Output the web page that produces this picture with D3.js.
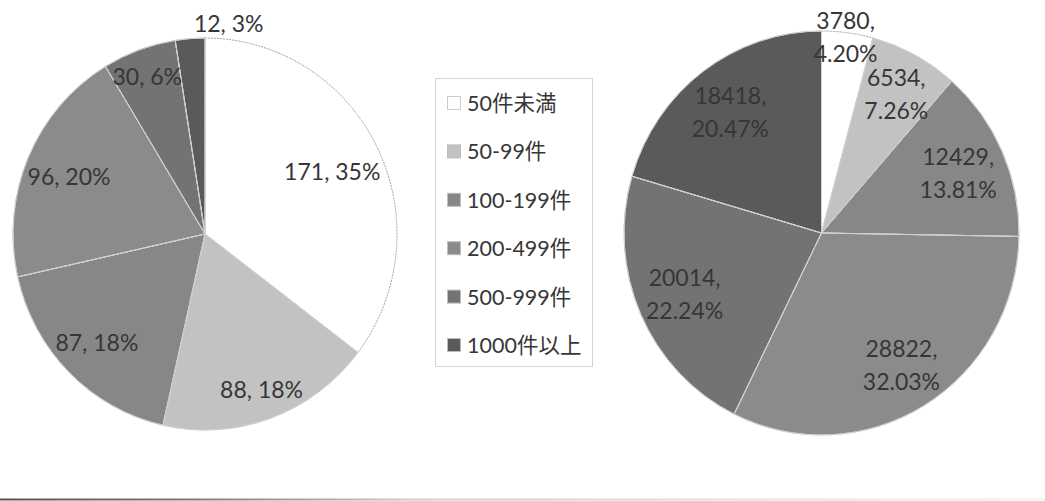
<!DOCTYPE html>
<html><head><meta charset="utf-8">
<script src="https://cdn.jsdelivr.net/npm/d3@7"></script>
<style>
body{margin:0;background:#fff;overflow:hidden;}
text{font-family:Lato,"Noto Sans CJK JP",sans-serif;}
</style>
</head><body>
<svg id="c" width="1045" height="501"></svg>
<script>
const categories = ["50件未満","50-99件","100-199件","200-499件","500-999件","1000件以上"];
const leftValues = [171, 88, 87, 96, 30, 12];
const leftPercents = ["35%","18%","18%","20%","6%","3%"];
const rightValues = [3780, 6534, 12429, 28822, 20014, 18418];
const rightPercents = ["4.20%","7.26%","13.81%","32.03%","22.24%","20.47%"];
const colors = ["#ffffff","#c2c2c2","#878787","#8b8b8b","#737373","#5a5a5a"];

const svg = d3.select("#c");
const color = d3.scaleOrdinal().domain(categories).range(colors);
const labelColor = "#363636";
const FS = 23, LH = 33;

function drawPie(cx, cy, rx, ry, values, percents, twoLine) {
  const data = values.map((v,i)=>({cat:categories[i], v, p:percents[i]}));
  const total = d3.sum(values);
  const pie = d3.pie().sort(null).value(d=>d.v);
  const arcs = pie(data);
  const arc = d3.arc().innerRadius(0).outerRadius(ry);
  const g = svg.append("g").attr("transform",`translate(${cx},${cy}) scale(${rx/ry},1)`);
  g.selectAll("path").data(arcs).join("path")
    .attr("d", arc)
    .attr("fill", d=>color(d.data.cat))
    .attr("stroke", d=> d.index===0 ? "#a0a0a0" : "#cfcfcf")
    .attr("stroke-width", 1)
    .attr("stroke-dasharray", d=> d.index===0 ? "2,1" : null)
    .attr("vector-effect","non-scaling-stroke");
  g.selectAll("path.b").data(arcs.filter(d=>d.index>0)).join("path")
    .attr("class","b").attr("d", arc).attr("fill","none")
    .attr("stroke","#cfcfcf").attr("stroke-width",1)
    .attr("vector-effect","non-scaling-stroke");

  const lg = svg.append("g");
  arcs.forEach(d => {
    const lines = twoLine ? [d.data.v + ",", d.data.p] : [d.data.v + ", " + d.data.p];
    const t = lg.append("text").attr("fill", labelColor).attr("font-size", FS)
      .attr("text-anchor","middle");
    lines.forEach((ln,i)=>{
      t.append("tspan").attr("x",0).attr("dy", i===0 ? -(lines.length-1)/2*LH : LH)
        .attr("dominant-baseline","central").text(ln);
    });
    const bb = t.node().getBBox();
    const hw = bb.width/2, hh = (lines.length-1)*LH/2 + FS*0.5;
    const a = (d.startAngle + d.endAngle)/2;
    const s = Math.sin(a), c = -Math.cos(a);
    const frac = d.data.v/total;
    let x, y, anchor = "middle";
    if (frac >= 0.05) {
      const pad = 2;
      const f = rho => Math.pow((Math.abs(rho*s)+hw)/(rx-pad),2) + Math.pow((Math.abs(rho*c)+hh)/(ry-pad),2) - 1;
      let lo = 0, hi = ry;
      for (let k=0;k<40;k++){ const m=(lo+hi)/2; if (f(m)>0) hi=m; else lo=m; }
      x = cx + lo*s; y = cy + lo*c;
    } else {
      const rr = ry + hh + 4;
      x = cx + rr*s*rx/ry; y = cy + rr*c;
      if (y - hh < 8) y = 8 + hh;
      if (a > Math.PI) { anchor = "start"; x += 5; } else { x -= 6; }
    }
    t.attr("text-anchor", anchor).attr("transform",`translate(${x},${y})`);
  });
}

drawPie(205, 234, 192, 196, leftValues, leftPercents, false);
drawPie(821.5, 233, 197.5, 202, rightValues, rightPercents, true);

// legend
const leg = svg.append("g");
leg.append("rect").attr("x",435.5).attr("y",78.5).attr("width",157).attr("height",288)
  .attr("fill","#fff").attr("stroke","#a8a8a8").attr("stroke-dasharray","1,1");
const ly = d3.scalePoint().domain(categories).range([103, 345]);
categories.forEach(cat=>{
  leg.append("rect").attr("x",447.5).attr("y",ly(cat)-6.5).attr("width",13).attr("height",13)
    .attr("fill",color(cat)).attr("stroke", cat===categories[0] ? "#9a9a9a" : "#bdbdbd")
    .attr("stroke-width",1).attr("stroke-dasharray", cat===categories[0] ? "1,1" : null);
  leg.append("text").attr("x",467).attr("y",ly(cat)).attr("dominant-baseline","central")
    .attr("font-size",21.5).attr("fill",labelColor).text(cat);
});

// bottom page line
const defs = svg.append("defs");
const grad = defs.append("linearGradient").attr("id","bl").attr("x1","0").attr("x2","1").attr("y1","0").attr("y2","0");
grad.append("stop").attr("offset","0").attr("stop-color","#555");
grad.append("stop").attr("offset","0.17").attr("stop-color","#777");
grad.append("stop").attr("offset","0.4").attr("stop-color","#cfcfcf");
grad.append("stop").attr("offset","1").attr("stop-color","#f2f2f2");
svg.append("rect").attr("x",0).attr("y",498.5).attr("width",1045).attr("height",2).attr("fill","url(#bl)");
</script>
</body></html>
